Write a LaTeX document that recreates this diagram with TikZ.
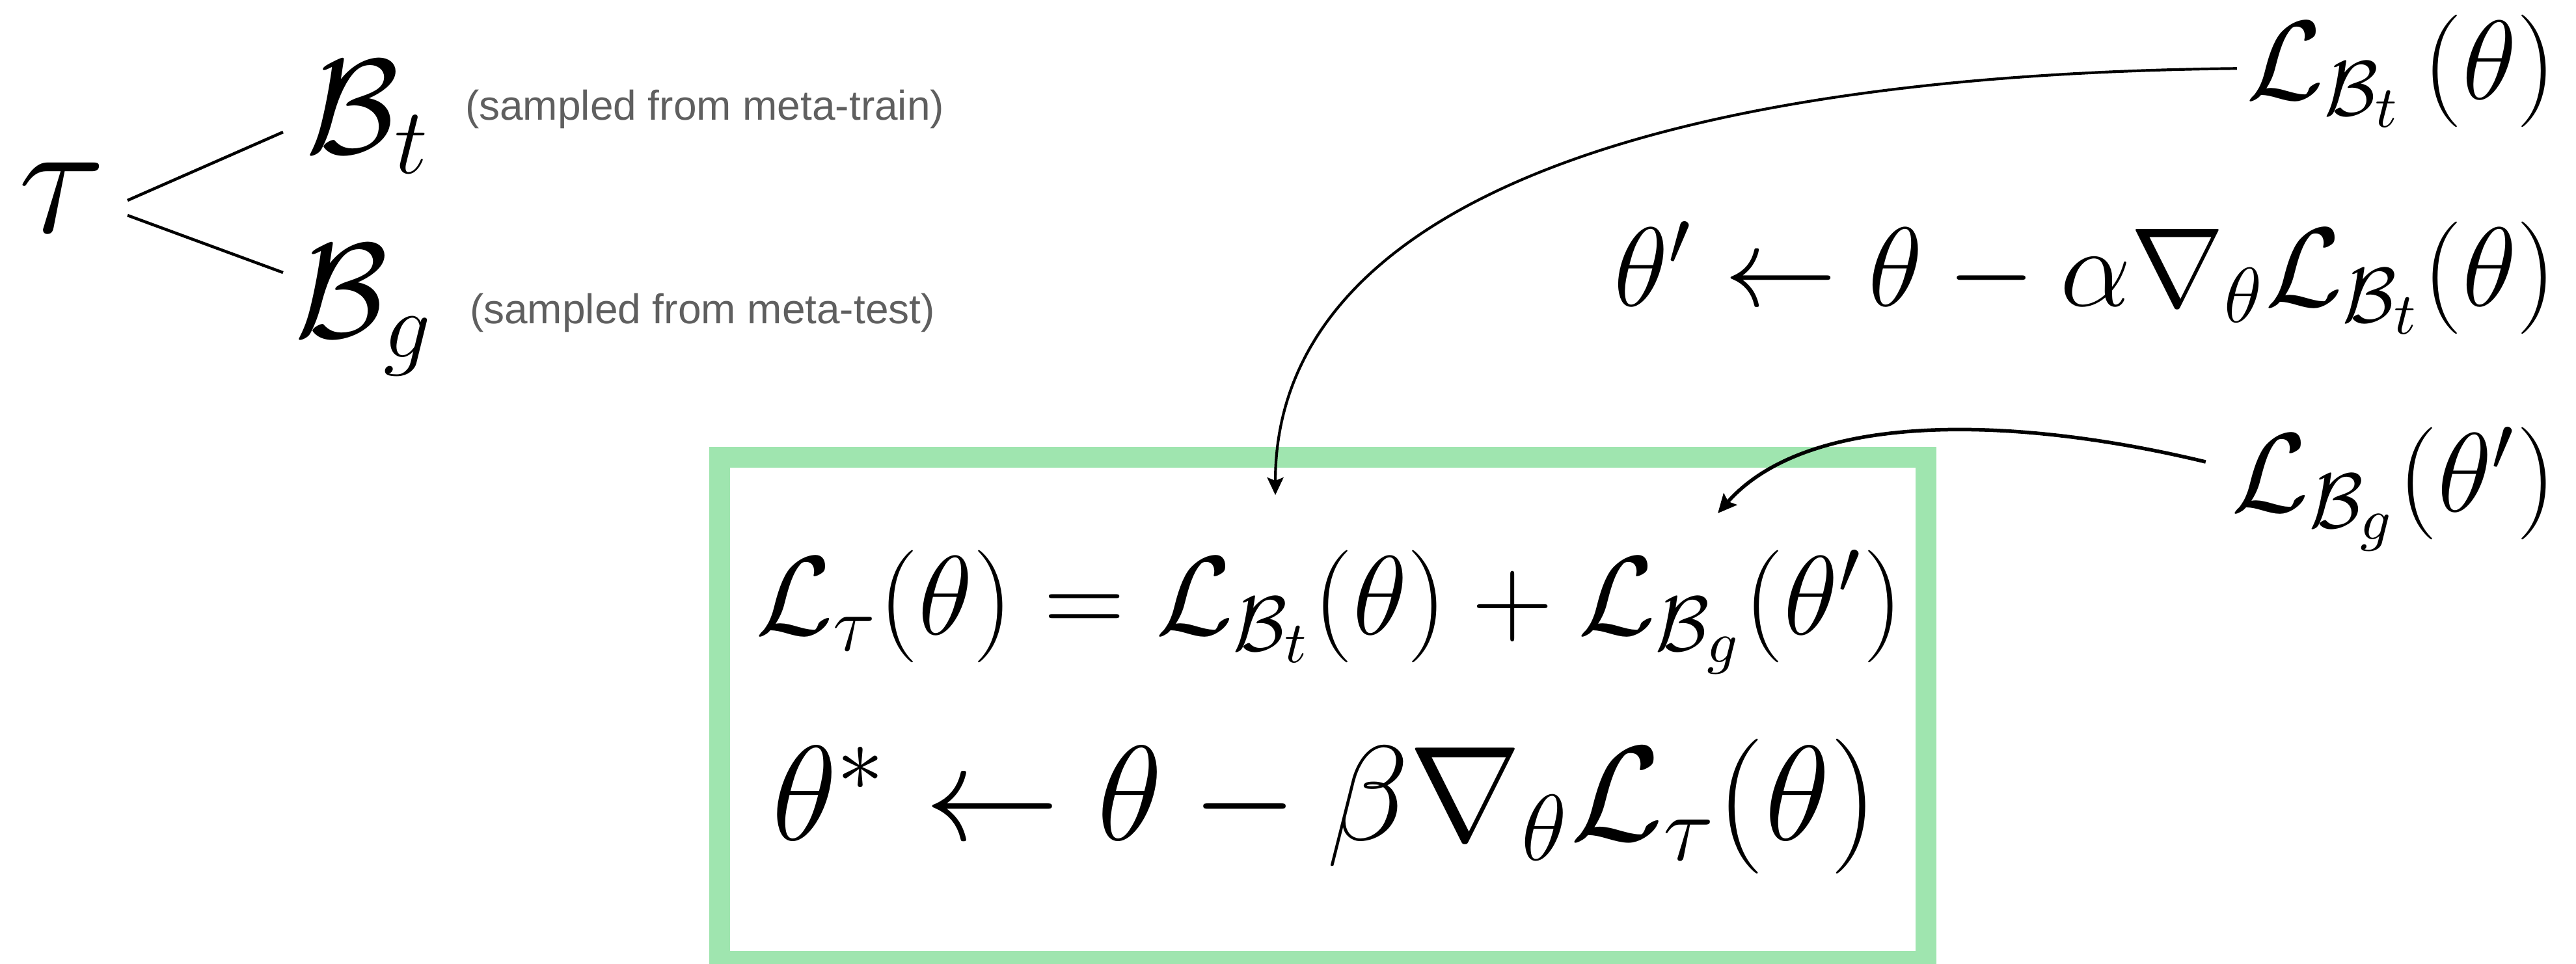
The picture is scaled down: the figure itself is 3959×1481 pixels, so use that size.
\documentclass[tikz,border=0pt]{standalone}
\usepackage{fontspec}
\newfontfamily\helv{Liberation Sans}
\usetikzlibrary{arrows.meta}
\definecolor{boxgreen}{RGB}{159,229,175}
\definecolor{notegray}{RGB}{95,95,95}
\begin{document}
\begin{tikzpicture}[x=0.1pt,y=-0.1pt,
  mathlbl/.style={inner sep=0pt, outer sep=0pt},
  sz/.style={font=\fontsize{#1}{#1}\selectfont},
  note/.style={inner sep=0pt, text=notegray, font=\helv\fontsize{6.4}{7}\selectfont},
  branch/.style={line width=0.45pt, draw=black},
  arrA/.style={-{Stealth[length=2.7pt,width=2.5pt,inset=0.5pt]}, line width=0.42pt},
  arrB/.style={-{Stealth[length=2.9pt,width=2.7pt,inset=0.5pt]}, line width=0.55pt},
  mbox/.style={draw=boxgreen, line width=3.2pt, inner sep=0pt}]
\useasboundingbox (0,0) rectangle (3959,1481);
% green box
\node[mbox, minimum width=185.4pt, minimum height=77.5pt] (box) at (2033,1090.5) {};
% left group
\node[mathlbl, sz=25, anchor=base west] (tau) at (28,357) {$\tau$};
\node[mathlbl, sz=21, anchor=base west] (Bt) at (470,235) {$\mathcal{B}_t$};
\node[mathlbl, sz=21, anchor=base west] (Bg) at (453,518) {$\mathcal{B}_g$};
\node[note, anchor=base west] (nt) at (713,184) {(sampled from meta-train)};
\node[note, anchor=base west] (ng) at (720,497) {(sampled from meta-test)};
\coordinate (b1s) at (196,308);
\coordinate (b1e) at (435,203);
\coordinate (b2s) at (196,331);
\coordinate (b2e) at (435,419);
\draw[branch] (b1s) -- (b1e);
\draw[branch] (b2s) -- (b2e);
% right group
\node[mathlbl, sz=17.8, anchor=base east] (Lbt) at (3929,152) {$\mathcal{L}_{\mathcal{B}_t}\mkern3mu(\theta)$};
\node[mathlbl, sz=17.3, anchor=base east] (upd) at (3929,470) {$\theta' \leftarrow \theta - \alpha\nabla_\theta\mathcal{L}_{\mathcal{B}_t}(\theta)$};
\node[mathlbl, sz=17.3, anchor=base east] (Lbg) at (3929,786) {$\mathcal{L}_{\mathcal{B}_g}(\theta')$};
% box contents
\node[mathlbl, sz=17.2, anchor=base] (eq1) at (2043,975) {$\mathcal{L}_\tau(\theta) = \mathcal{L}_{\mathcal{B}_t}(\theta) + \mathcal{L}_{\mathcal{B}_g}(\theta')$};
\node[mathlbl, sz=20, anchor=base] (eq2) at (2036,1291) {$\theta^* \leftarrow \theta - \beta\nabla_\theta\mathcal{L}_\tau(\theta)$};
% arrows
\coordinate (tip1) at (1960,761);
\coordinate (tip2) at (2640,789);
\draw[arrA] ([shift={(-1.5pt,0.4pt)}]Lbt.west) .. controls (2500,115) and (1960,330) .. (tip1);
\draw[arrB] ([shift={(-4pt,4.2pt)}]Lbg.west) .. controls (3100,640) and (2780,630) .. (tip2);
\end{tikzpicture}
\end{document}
